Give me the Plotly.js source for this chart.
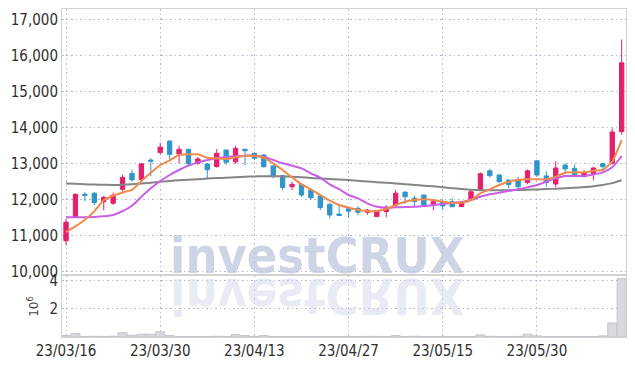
<!DOCTYPE html>
<html>
<head>
<meta charset="utf-8">
<script src="https://cdn.plot.ly/plotly-3.0.1.min.js"></script>
<style>
  html, body { margin: 0; padding: 0; background: #ffffff; }
  #chart { width: 635px; height: 366px; }
</style>
</head>
<body>
<div id="chart"></div>
<script>
// ---- data ----
const dates = [
  '23/03/16','23/03/17','23/03/20','23/03/21','23/03/22','23/03/23','23/03/24','23/03/27','23/03/28','23/03/29',
  '23/03/30','23/03/31','23/04/03','23/04/04','23/04/05','23/04/06','23/04/07','23/04/10','23/04/11','23/04/12',
  '23/04/13','23/04/14','23/04/17','23/04/18','23/04/19','23/04/20','23/04/21','23/04/24','23/04/25','23/04/26',
  '23/04/27','23/04/28','23/05/02','23/05/03','23/05/04','23/05/08','23/05/09','23/05/10','23/05/11','23/05/12',
  '23/05/15','23/05/16','23/05/17','23/05/18','23/05/19','23/05/22','23/05/23','23/05/24','23/05/25','23/05/26',
  '23/05/30','23/05/31','23/06/01','23/06/02','23/06/05','23/06/07','23/06/08','23/06/09','23/06/12','23/06/13'
];
const openPrices = [
  10850,11500,12140,12170,11935,11890,12280,12720,12550,13090,
  13300,13620,13260,13390,13000,12980,12910,13370,13040,13390,
  13280,13230,12925,12656,12350,12416,12258,12090,11860,11590,
  11740,11750,11640,11520,11660,11842,12200,12030,12120,11870,
  11935,11935,11800,12010,12258,12790,12675,12536,12550,12470,
  13070,12650,12425,12950,12860,12675,12703,12990,13000,13880
];
const highPrices = [
  11470,12160,12200,12200,12090,12190,12680,12830,13000,13140,
  13570,13620,13480,13400,13180,13000,13400,13375,13490,13400,
  13300,13250,12950,12680,12490,12440,12300,12120,11890,11850,
  11800,11810,11730,11700,11840,12260,12215,12100,12125,11980,
  11980,12030,11935,12260,12750,12850,12700,12555,12620,12830,
  13075,12780,13055,13000,12970,12815,12900,13000,13970,16440
];
const lowPrices = [
  10730,11490,11950,11840,11700,11840,12220,12490,12530,12640,
  13240,13120,13000,12960,12960,12590,12880,12950,12990,12940,
  13090,12880,12580,12260,12260,12070,11980,11700,11470,11540,
  11480,11560,11570,11515,11500,11820,11870,11815,11815,11690,
  11700,11780,11785,11980,12240,12605,12460,12305,12295,12420,
  12630,12350,12333,12725,12630,12600,12525,12780,12960,13790
];
const closePrices = [
  11365,12140,12110,11910,12055,12115,12610,12540,12985,13060,
  13450,13250,13390,12985,13120,12820,13280,13030,13415,13350,
  13140,12906,12630,12330,12415,12120,12045,11770,11565,11550,
  11670,11640,11700,11680,11780,12170,12073,11935,11840,11935,
  11815,11795,11905,12210,12710,12656,12490,12410,12350,12790,
  12675,12470,12870,12845,12675,12745,12870,12906,13870,15790
];
// moving-average lines
const maShort = [
  11090,11250,11430,11665,11980,12100,12190,12260,12508,12740,
  12953,13082,13230,13249,13249,13156,13138,13119,13166,13212,
  13203,13156,13000,12814,12610,12416,12277,12120,11962,11842,
  11770,11703,11675,11675,11730,11842,11934,11981,12000,11981,
  11934,11907,11907,11981,12166,12277,12397,12490,12536,12555,
  12555,12555,12629,12740,12749,12749,12795,12814,13045,13647
];
const maMid = [
  11499,11499,11499,11508,11527,11564,11675,11823,12073,12305,
  12508,12675,12814,12934,13027,13092,13138,13175,13193,13212,
  13212,13175,13092,13000,12934,12860,12721,12601,12416,12280,
  12120,12027,11888,11795,11768,11777,11786,11795,11814,11842,
  11869,11897,11925,11981,12073,12138,12184,12231,12277,12332,
  12397,12490,12582,12647,12647,12647,12694,12749,12888,13203
];
const maLong = [
  12440,12430,12420,12410,12405,12400,12405,12420,12440,12460,
  12490,12510,12530,12545,12560,12575,12590,12600,12615,12625,
  12635,12640,12640,12635,12625,12610,12595,12580,12565,12550,
  12535,12515,12495,12475,12460,12440,12420,12400,12380,12360,
  12335,12310,12285,12265,12255,12250,12250,12255,12260,12265,
  12275,12285,12295,12305,12320,12340,12365,12400,12450,12530
];
// volume in millions of shares
const volumeMillions = [
  0.11,0.23,0.04,0.05,0.04,0.05,0.30,0.12,0.20,0.20,
  0.37,0.10,0.03,0.03,0.03,0.03,0.05,0.04,0.17,0.10,
  0.04,0.10,0.03,0.03,0.03,0.03,0.03,0.03,0.03,0.03,
  0.03,0.03,0.04,0.04,0.03,0.10,0.03,0.05,0.03,0.03,
  0.03,0.03,0.03,0.03,0.15,0.05,0.03,0.03,0.04,0.20,
  0.08,0.03,0.03,0.03,0.03,0.03,0.03,0.08,0.98,4.12
];
const tickLabels = ['23/03/16','23/03/30','23/04/13','23/04/27','23/05/15','23/05/30'];
const priceTicks = [10000,11000,12000,13000,14000,15000,16000,17000];
const volumeTicks = [2,4];

// ---- styling ----
const UP = '#e3206b';
const DOWN = '#2e96c8';
const tickFont = {family: '"Liberation Sans Narrow", "DejaVu Sans Condensed", "Roboto", sans-serif', size: 15, color: '#2e2e2e'};
const gridColor = '#b4b8cb';
const gridDash = '1.5px,3px';

const traces = [
  {
    type: 'candlestick', x: dates,
    open: openPrices, high: highPrices, low: lowPrices, close: closePrices,
    increasing: {line: {color: UP, width: 1}, fillcolor: UP},
    decreasing: {line: {color: DOWN, width: 1}, fillcolor: DOWN},
    whiskerwidth: 0, xaxis: 'x', yaxis: 'y', hoverinfo: 'skip'
  },
  {type: 'scatter', mode: 'lines', x: dates, y: maLong, line: {color: '#858585', width: 2, shape: 'spline', smoothing: 0.8}, xaxis: 'x', yaxis: 'y', hoverinfo: 'skip'},
  {type: 'scatter', mode: 'lines', x: dates, y: maMid, line: {color: '#c95ee6', width: 2, shape: 'spline', smoothing: 0.8}, xaxis: 'x', yaxis: 'y', hoverinfo: 'skip'},
  {type: 'scatter', mode: 'lines', x: dates, y: maShort, line: {color: '#f0894c', width: 2, shape: 'spline', smoothing: 0.4}, xaxis: 'x', yaxis: 'y', hoverinfo: 'skip'},
  {type: 'bar', x: dates, y: volumeMillions, marker: {color: '#d9d9df', line: {color: '#c4c4cc', width: 1}}, xaxis: 'x', yaxis: 'y2', hoverinfo: 'skip'}
];

const layout = {
  width: 635, height: 366,
  margin: {l: 62, r: 9, t: 9, b: 29},
  paper_bgcolor: '#ffffff', plot_bgcolor: '#ffffff',
  showlegend: false,
  boxgap: 0.34,
  bargap: 0.04,
  xaxis: {
    type: 'category', categoryorder: 'array', categoryarray: dates,
    range: [-0.43, 59.46], anchor: 'y2',
    tickmode: 'array', tickvals: tickLabels, ticktext: tickLabels,
    tickfont: tickFont, ticks: '',
    showgrid: true, gridcolor: gridColor, griddash: gridDash, gridwidth: 1,
    showline: true, linecolor: '#d2d2d2', linewidth: 1, mirror: 'all',
    rangeslider: {visible: false}, zeroline: false, fixedrange: true
  },
  yaxis: {
    domain: [0.192, 1], range: [9925, 17286],
    tickmode: 'array', tickvals: priceTicks,
    tickformat: ',d', tickfont: tickFont, ticks: '',
    showgrid: true, gridcolor: gridColor, griddash: gridDash, gridwidth: 1,
    showline: true, linecolor: '#d2d2d2', linewidth: 1, mirror: true,
    zeroline: false, fixedrange: true
  },
  yaxis2: {
    domain: [0, 0.186], range: [0, 4.3],
    tickmode: 'array', tickvals: volumeTicks, tickfont: tickFont, ticks: '',
    showgrid: true, gridcolor: gridColor, griddash: gridDash, gridwidth: 1,
    showline: true, linecolor: '#d2d2d2', linewidth: 1, mirror: true,
    zeroline: false, fixedrange: true,
    title: {text: '10<sup>6</sup>', font: {family: 'DejaVu Sans', size: 12, color: '#444444'}, standoff: 8}
  },
  annotations: [
    {text: '<b>investCRUX</b>', xref: 'paper', yref: 'paper', x: 0.452, y: 0.248, xanchor: 'center', yanchor: 'middle',
     showarrow: false, font: {family: '"DejaVu Sans Condensed", "DejaVu Sans", sans-serif', size: 50, color: 'rgba(188,197,222,0.75)'}},
    {text: '<b>investCRUX</b>', xref: 'paper', yref: 'paper', x: 0.452, y: 0.125, xanchor: 'center', yanchor: 'middle',
     showarrow: false, font: {family: '"DejaVu Sans Condensed", "DejaVu Sans", sans-serif', size: 50, color: 'rgba(210,216,234,0.5)'}}
  ]
};

Plotly.newPlot('chart', traces, layout, {staticPlot: true, displayModeBar: false}).then(function (gd) {
  const texts = gd.querySelectorAll('.annotation-text');
  if (texts.length > 1) {
    const t = texts[1];
    const bb = t.getBBox();
    const cy = bb.y + bb.height / 2;
    t.setAttribute('transform', 'translate(0 ' + (2 * cy) + ') scale(1 -1)');
  }
});
</script>
</body>
</html>
